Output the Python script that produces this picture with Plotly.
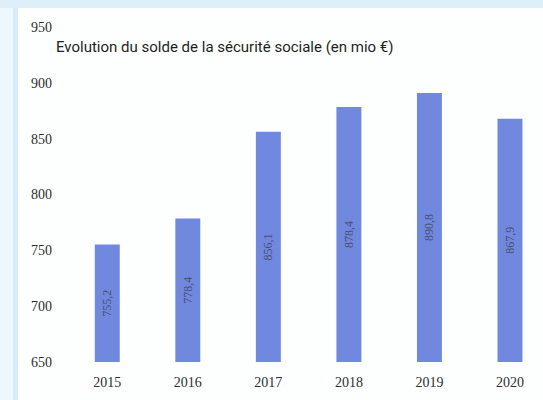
import plotly.graph_objects as go

# Solde de la sécurité sociale, en millions d'euros
years = ["2015", "2016", "2017", "2018", "2019", "2020"]
solde = [755.2, 778.4, 856.1, 878.4, 890.8, 867.9]
y_ticks = [650, 700, 750, 800, 850, 900, 950]
axis_base = 650

W, H = 543, 400
M_L, M_R, M_T, M_B = 67, 0, 27, 38
PW = W - M_L - M_R
PH = H - M_T - M_B


def px_x(px):
    return (px - M_L) / PW


def px_y(py):
    return 1 - (py - M_T) / PH


bar_color = "#7089df"

# bars rise from the bottom of the value axis up to each year's balance
fig = go.Figure(
    go.Bar(
        x=list(range(len(years))),
        y=[v - axis_base for v in solde],
        base=axis_base,
        width=0.31,
        marker=dict(color=bar_color, line=dict(width=0)),
        text=[f"{v:.1f}".replace(".", ",") for v in solde],
        texttemplate="%{text}",
        textposition="inside",
        insidetextanchor="middle",
        textangle=-90,
        textfont=dict(family="Liberation Serif", size=12, color="#4b4f6e"),
        hoverinfo="skip",
    )
)

frame_shapes = [
    dict(type="rect", xref="paper", yref="paper",
         x0=px_x(0), x1=px_x(18), y0=px_y(H), y1=px_y(0),
         fillcolor="#eef7fb", line=dict(width=0), layer="below"),
    dict(type="rect", xref="paper", yref="paper",
         x0=px_x(13), x1=px_x(18), y0=px_y(H), y1=px_y(0),
         fillcolor="#d6edf9", line=dict(width=0), layer="below"),
    dict(type="rect", xref="paper", yref="paper",
         x0=px_x(0), x1=px_x(W), y0=px_y(8), y1=px_y(0),
         fillcolor="#ddf0fa", line=dict(width=0), layer="below"),
]

fig.update_layout(
    width=W,
    height=H,
    margin=dict(l=M_L, r=M_R, t=M_T, b=M_B),
    paper_bgcolor="#fdfefe",
    plot_bgcolor="rgba(0,0,0,0)",
    showlegend=False,
    shapes=frame_shapes,
    uniformtext=dict(minsize=8, mode="show"),
    xaxis=dict(
        range=[-0.5, 5.41],
        tickmode="array",
        tickvals=list(range(len(years))),
        ticktext=years,
        showgrid=False,
        zeroline=False,
        showline=False,
        ticklabelstandoff=10,
        tickfont=dict(family="Liberation Serif", size=14, color="#2e2e2e"),
        fixedrange=True,
    ),
    yaxis=dict(
        range=[650, 950],
        tickmode="array",
        tickvals=y_ticks,
        showgrid=False,
        zeroline=False,
        showline=False,
        ticklabelstandoff=14,
        tickfont=dict(family="Liberation Serif", size=14, color="#2e2e2e"),
        fixedrange=True,
    ),
    annotations=[
        dict(
            text="Evolution du solde de la sécurité sociale (en mio €)",
            xref="paper", yref="paper",
            x=px_x(54), y=px_y(47),
            xanchor="left", yanchor="middle",
            showarrow=False,
            font=dict(family="Roboto, sans-serif", size=15, color="#1e1e1e"),
        )
    ],
)

fig.write_html("out.html")
